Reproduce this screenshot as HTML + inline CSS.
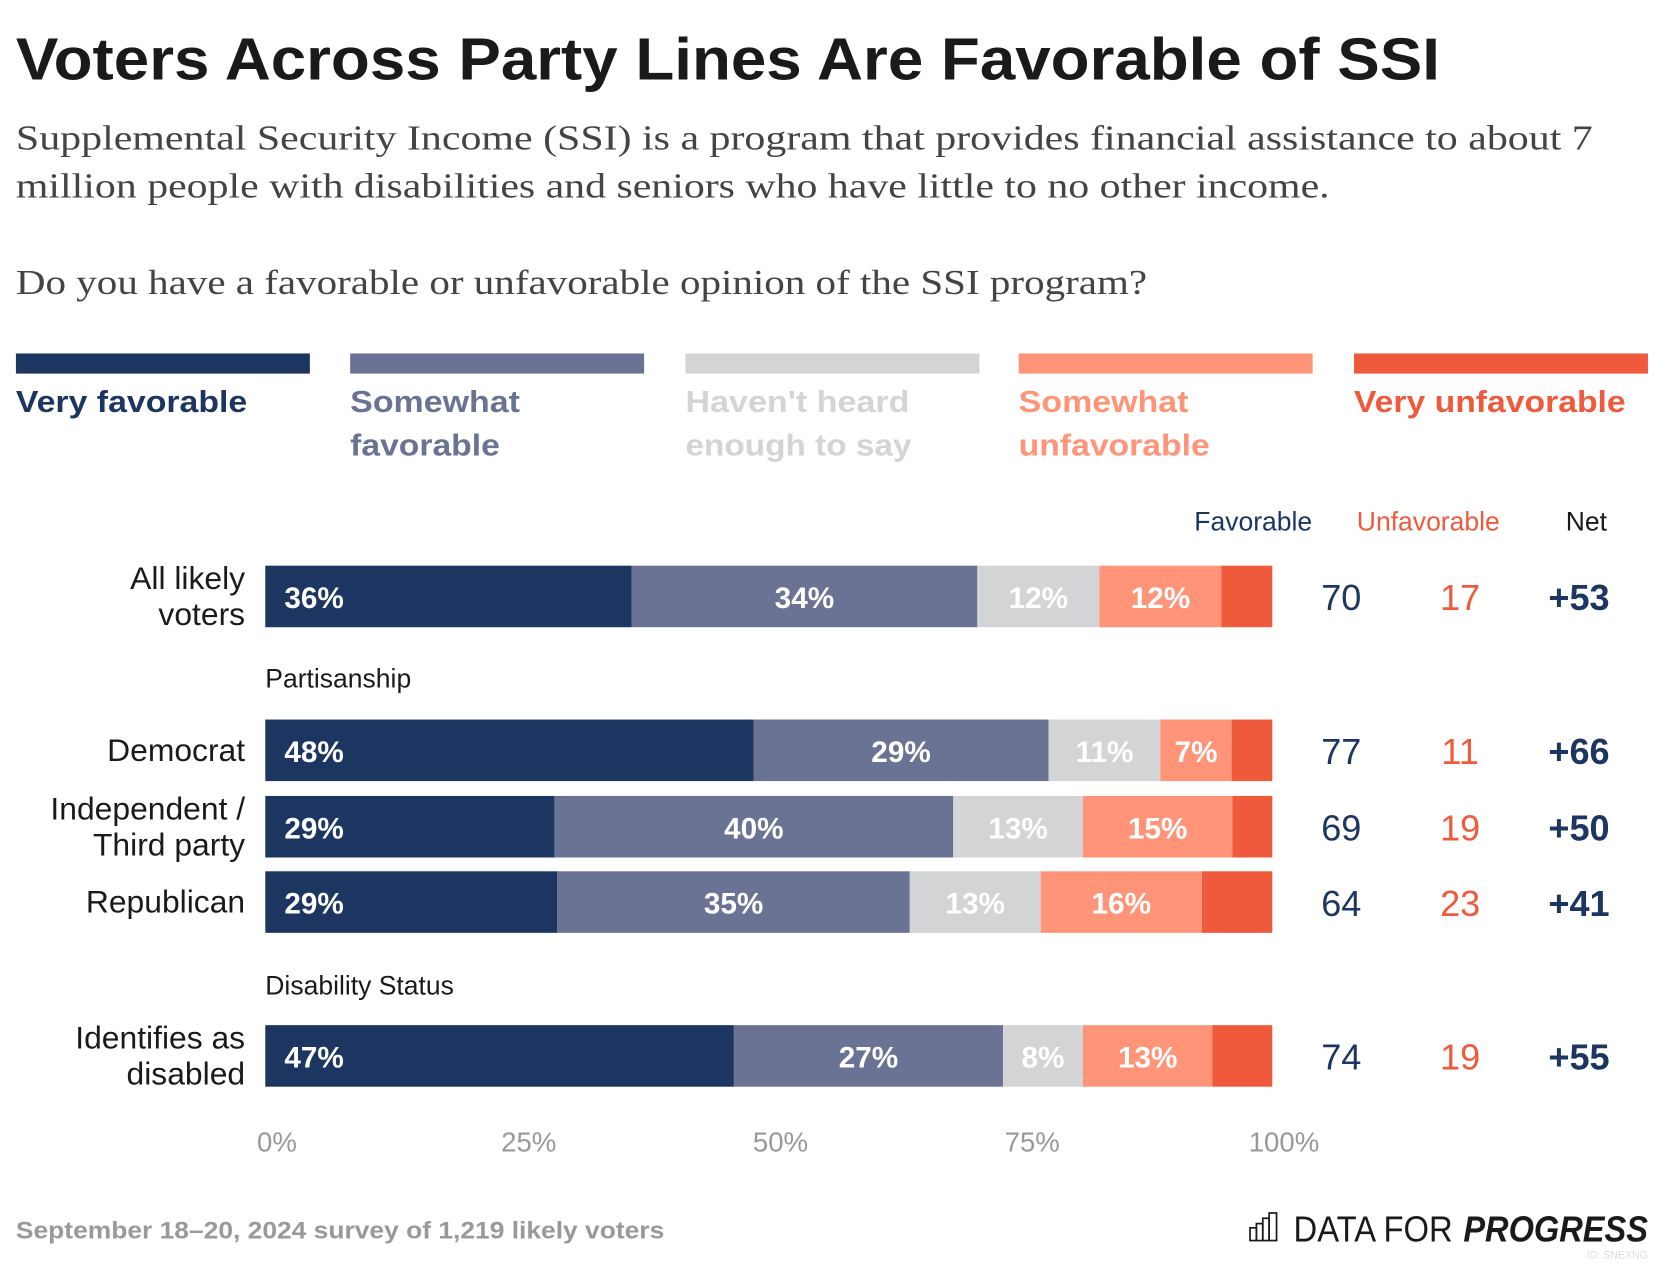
<!DOCTYPE html>
<html><head><meta charset="utf-8"><style>
html,body{margin:0;padding:0;background:#fff;}
svg{display:block;}
text{font-family:"Liberation Sans",sans-serif;}
.serif{font-family:"Liberation Serif",serif;}
</style></head><body>
<svg id="chart" width="1666" height="1264" viewBox="0 0 1570 1191" xmlns="http://www.w3.org/2000/svg">
<rect width="1570" height="1191" fill="#fff"/>
<text x="15" y="75" font-size="56" font-weight="bold" fill="#1a1a1a" textLength="1342" lengthAdjust="spacingAndGlyphs">Voters Across Party Lines Are Favorable of SSI</text>
<text class="serif" x="15" y="141" font-size="33" fill="#444" textLength="1486" lengthAdjust="spacingAndGlyphs">Supplemental Security Income (SSI) is a program that provides financial assistance to about 7</text>
<text class="serif" x="15" y="186" font-size="33" fill="#444" textLength="1238" lengthAdjust="spacingAndGlyphs">million people with disabilities and seniors who have little to no other income.</text>
<text class="serif" x="15" y="277" font-size="33" fill="#444" textLength="1066" lengthAdjust="spacingAndGlyphs">Do you have a favorable or unfavorable opinion of the SSI program?</text>
<g id="legend"></g>
<text x="1181" y="500" font-size="25" fill="#1c3661" text-anchor="middle">Favorable</text>
<text x="1346" y="500" font-size="25" fill="#f05a3c" text-anchor="middle">Unfavorable</text>
<text x="1495" y="500" font-size="25" fill="#1a1a1a" text-anchor="middle">Net</text>
<text x="250" y="648" font-size="25" fill="#1a1a1a">Partisanship</text>
<text x="250" y="937" font-size="25" fill="#1a1a1a">Disability Status</text>
<g id="bars"></g>
<g id="axis"></g>
<text x="15" y="1167" font-size="23" font-weight="bold" fill="#999" textLength="611" lengthAdjust="spacingAndGlyphs">September 18–20, 2024 survey of 1,219 likely voters</text>
<g>
<g fill="none" stroke="#1a1a1a" stroke-width="1.6">
<rect x="1178" y="1157" width="6" height="12"/><rect x="1184" y="1153" width="6" height="16"/><rect x="1190" y="1148" width="6" height="21"/><rect x="1196" y="1143" width="7" height="26"/>
</g>
<text x="1219" y="1170" font-size="34" fill="#1a1a1a" textLength="150" lengthAdjust="spacingAndGlyphs">DATA FOR</text>
<text x="1379" y="1170" font-size="34" font-weight="bold" font-style="italic" fill="#1a1a1a" textLength="174" lengthAdjust="spacingAndGlyphs">PROGRESS</text>
<text x="1553" y="1186" font-size="10" fill="#ddd" text-anchor="end">ID: SNEXNG</text>
</g>
</svg>
<script>
const categories = ["All likely voters","Democrat","Independent / Third party","Republican","Identifies as disabled"];
const labelLines = [["All likely","voters"],["Democrat"],["Independent /","Third party"],["Republican"],["Identifies as","disabled"]];
const veryFav = [36,48,29,29,47];
const somewhatFav = [34,29,40,35,27];
const notHeard = [12,11,13,13,8];
const somewhatUnfav = [12,7,15,16,13];
const veryUnfav = [5,4,4,7,6];
const favTotal = [70,77,69,64,74];
const unfavTotal = [17,11,19,23,19];
const netVals = ["+53","+66","+50","+41","+55"];
const ticks = [0,25,50,75,100];
const seriesNames = ["Very favorable","Somewhat favorable","Haven't heard enough to say","Somewhat unfavorable","Very unfavorable"];

const NS="http://www.w3.org/2000/svg";
const colors=["#1c3661","#6a7394","#d3d4d6","#ff9478","#f05a3c"];
const x0=250,x1=1199;
const xs=v=>x0+(x1-x0)*v/100;
const rowY=[533,678,750,821,966];
const barH=58;
function mk(tag,attrs,parent){const e=document.createElementNS(NS,tag);for(const k in attrs)e.setAttribute(k,attrs[k]);parent.appendChild(e);return e;}

// legend
const lg=document.getElementById('legend');
const legendLines=[["Very favorable"],["Somewhat","favorable"],["Haven't heard","enough to say"],["Somewhat","unfavorable"],["Very unfavorable"]];
const legendW=[[218],[160,141],[211,213],[160,180],[256]];
const lgX=[15,330,646,960,1276];
for(let i=0;i<5;i++){
  const g=mk('g',{},lg);
  
  
  mk('rect',{x:lgX[i],y:333,width:277,height:19,fill:colors[i]},g);
  legendLines[i].forEach((l,j)=>{const t=mk('text',{x:lgX[i],y:388+j*41,'font-size':29,'font-weight':'bold',fill:colors[i],textLength:legendW[i][j],lengthAdjust:'spacingAndGlyphs'},g);t.textContent=l;});
}

// bars
const bg=document.getElementById('bars');
const series=[veryFav,somewhatFav,notHeard,somewhatUnfav,veryUnfav];
for(let r=0;r<categories.length;r++){
  const g=mk('g',{},bg);
  
  
  const y=rowY[r];
  const tot=series.reduce((s,a)=>s+a[r],0);
  let cum=0;
  for(let s=0;s<5;s++){
    const v=series[s][r];
    const a=xs(cum/tot*100),b=xs((cum+v)/tot*100);
    const rc=mk('rect',{x:a,y:y,width:b-a,height:barH,fill:colors[s]},g);
    
    
    if(s<4){
      const t=mk('text',{x:s==0?a+18:(a+b)/2,y:y+40,'font-size':28,'font-weight':'bold',fill:'#fff','text-anchor':s==0?'start':'middle'},g);
      t.textContent=v+'%';
    }
    cum+=v;
  }
  const lines=labelLines[r];
  const cy=y+barH/2;
  lines.forEach((l,j)=>{
    const t=mk('text',{x:231,y:cy+10+(j-(lines.length-1)/2)*34,'font-size':30,fill:'#1a1a1a','text-anchor':'end'},g);
    
    
    t.textContent=l;
  });
  const f=mk('text',{x:1264,y:cy+13,'font-size':34,fill:'#1c3661','text-anchor':'middle'},g);
  f.textContent=favTotal[r];
  const u=mk('text',{x:1376,y:cy+13,'font-size':34,fill:'#f05a3c','text-anchor':'middle'},g);
  u.textContent=unfavTotal[r];
  const n=mk('text',{x:1488,y:cy+13,'font-size':34,'font-weight':'bold',fill:'#1c3661','text-anchor':'middle'},g);
  n.textContent=netVals[r];
}

// axis
const ax=document.getElementById('axis');
ticks.forEach(t=>{
  const e=mk('text',{x:xs(t)+11,y:1085,'font-size':26,fill:'#999','text-anchor':'middle'},ax);
  
  
  e.textContent=t+'%';
});
</script>
</body></html>
